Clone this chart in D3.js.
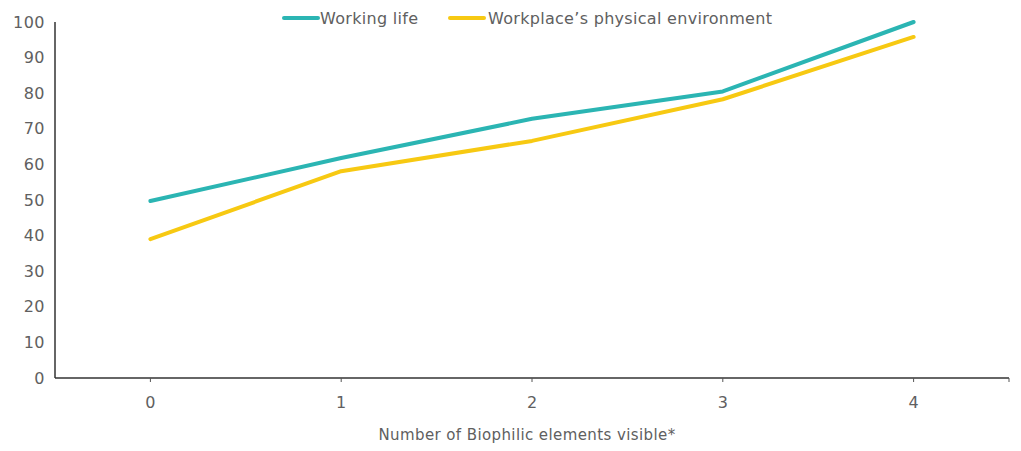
<!DOCTYPE html>
<html><head><meta charset="utf-8">
<script src="https://cdn.jsdelivr.net/npm/d3@7"></script>
<style>body{margin:0;background:#fff;} svg{display:block;font-family:"DejaVu Sans",sans-serif;}</style>
</head><body><svg id="c" width="1021" height="451"></svg>
<script>
const categories = ["0","1","2","3","4"];
const workingLife = [49.7, 61.8, 72.8, 80.5, 100];
const physicalEnv = [39, 58.1, 66.6, 78.3, 95.8];
const yTicks = [0,10,20,30,40,50,60,70,80,90,100];
const seriesNames = ["Working life", "Workplace\u2019s physical environment"];
const seriesColors = ["#2bb5b3", "#f7c912"];

const svg = d3.select("#c");
const x = d3.scalePoint().domain(categories).range([55,1009]).padding(0.5);
const y = d3.scaleLinear().domain([0,100]).range([378,22]);
const textCol = "#606060";

// axes
svg.append("line").attr("x1",55).attr("x2",55).attr("y1",y(100)).attr("y2",y(0)).attr("stroke","#333").attr("stroke-width",1.5);
svg.append("line").attr("x1",55).attr("x2",1009).attr("y1",y(0)).attr("y2",y(0)).attr("stroke","#333").attr("stroke-width",1.5);
svg.selectAll(".ytl").data(yTicks).enter().append("text")
  .attr("x",45).attr("y",d=>y(d)).attr("dy","0.35em").attr("text-anchor","end")
  .attr("fill",textCol).attr("font-size",16).attr("letter-spacing",0.5).text(d=>d);
svg.selectAll(".xt").data(categories).enter().append("line")
  .attr("x1",d=>x(d)).attr("x2",d=>x(d)).attr("y1",y(0)).attr("y2",y(0)+4).attr("stroke","#555");
svg.append("line").attr("x1",1009).attr("x2",1009).attr("y1",y(0)).attr("y2",y(0)+4).attr("stroke","#555");
svg.selectAll(".xtl").data(categories).enter().append("text")
  .attr("x",d=>x(d)).attr("y",y(0)+24).attr("dy","0.35em").attr("text-anchor","middle")
  .attr("fill",textCol).attr("font-size",16).text(d=>d);
svg.append("text").attr("x",527).attr("y",440).attr("text-anchor","middle")
  .attr("fill",textCol).attr("font-size",15).attr("letter-spacing",0.4).text("Number of Biophilic elements visible*");

// lines
const line = d3.line().x((d,i)=>x(categories[i])).y(d=>y(d)).curve(d3.curveCatmullRom.alpha(0.5));
[workingLife, physicalEnv].forEach((s,k)=>{
  svg.append("path").datum(s).attr("d",d3.line().x((d,i)=>x(categories[i])).y(d=>y(d))).attr("fill","none")
    .attr("stroke",seriesColors[k]).attr("stroke-width",4).attr("stroke-linecap","round").attr("stroke-linejoin","round");
});

// legend
const leg = [{x:284, tx:320}, {x:450, tx:488}];
seriesNames.forEach((n,k)=>{
  svg.append("line").attr("x1",leg[k].x).attr("x2",leg[k].x+34).attr("y1",18).attr("y2",18)
    .attr("stroke",seriesColors[k]).attr("stroke-width",4).attr("stroke-linecap","round");
  svg.append("text").attr("x",leg[k].tx).attr("y",18).attr("dy","0.35em")
    .attr("fill",textCol).attr("font-size",16).attr("letter-spacing",0.3).text(n);
});
</script></body></html>
